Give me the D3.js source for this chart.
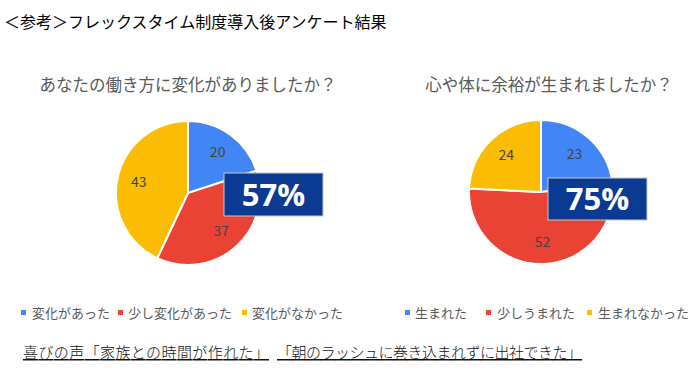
<!DOCTYPE html>
<html><head><meta charset="utf-8">
<script src="https://cdn.jsdelivr.net/npm/d3@7"></script>
<style>
body{margin:0;background:#fff;}
svg{display:block;font-family:"Noto Sans CJK JP","Noto Sans",sans-serif;}
</style></head>
<body>
<svg id="c" width="700" height="370"></svg>
<script>
const mainTitle = "＜参考＞フレックスタイム制度導入後アンケート結果";
const titles = ["あなたの働き方に変化がありましたか？", "心や体に余裕が生まれましたか？"];
const categories1 = ["変化があった", "少し変化があった", "変化がなかった"];
const values1 = [20, 37, 43];
const categories2 = ["生まれた", "少しうまれた", "生まれなかった"];
const values2 = [23, 52, 24];
const highlights = ["57%", "75%"];
const colors = ["#4285F4", "#EA4335", "#FBBC04"];
const footer = ["喜びの声「家族との時間が作れた」", "「朝のラッシュに巻き込まれずに出社できた」"];

const svg = d3.select("#c");
svg.append("text").attr("x",4).attr("y",28).attr("font-size",16).attr("fill","#000").text(mainTitle);

const charts = [
  {cats: categories1, vals: values1, title: titles[0], cx: 188, cy: 193, tx: 188,
   box: [224,173,99,43], legendX: [21,118,242], textX:[32,128,252]},
  {cats: categories2, vals: values2, title: titles[1], cx: 541, cy: 192, tx: 549,
   box: [548,178,99,42], legendX: [405,486,587], textX:[415,497,598]}
];
const R = 72;
charts.forEach((c,i)=>{
  const g = svg.append("g");
  g.append("text").attr("x",c.tx).attr("y",91).attr("text-anchor","middle")
    .attr("font-size",16.5).attr("fill","#595959").text(c.title);
  const pie = d3.pie().sort(null).value(d=>d)(c.vals);
  const arc = d3.arc().innerRadius(0).outerRadius(R);
  const lab = d3.arc().innerRadius(R*0.7).outerRadius(R*0.7);
  const pg = g.append("g").attr("transform",`translate(${c.cx},${c.cy})`);
  pg.selectAll("path").data(pie).join("path").attr("d",arc)
    .attr("fill",(d,j)=>colors[j]).attr("stroke","#fff").attr("stroke-width",2);
  pg.selectAll("text").data(pie).join("text")
    .attr("transform",d=>`translate(${lab.centroid(d)})`)
    .attr("text-anchor","middle").attr("dy","0.35em")
    .attr("font-size",14).attr("fill","#444").text(d=>d.data);
  const [bx,by,bw,bh] = c.box;
  g.append("rect").attr("x",bx).attr("y",by).attr("width",bw).attr("height",bh)
    .attr("fill","#0A3A91").attr("stroke","#c8c8c8").attr("stroke-width",1);
  g.append("text").attr("x",bx+bw/2).attr("y",by+bh/2).attr("dy","0.36em")
    .attr("text-anchor","middle").attr("font-size",31).attr("font-weight","bold")
    .attr("fill","#fff").attr("font-family","'Open Sans','DejaVu Sans',sans-serif")
    .text(highlights[i]);
  c.cats.forEach((name,j)=>{
    g.append("rect").attr("x",c.legendX[j]).attr("y",310).attr("width",5).attr("height",5).attr("fill",colors[j]);
    g.append("text").attr("x",c.textX[j]).attr("y",318).attr("font-size",13).attr("fill","#595959").text(name);
  });
});

const fx = [23, 277];
const fw = [246, 305];
footer.forEach((t,i)=>{
  svg.append("text").attr("x",fx[i]).attr("y",358).attr("font-size",15).attr("fill","#111")
    .attr("font-weight",300)
    .attr("textLength",fw[i]).attr("lengthAdjust","spacing")
    .attr("text-decoration","underline").text(t);
});
</script>
</body></html>
